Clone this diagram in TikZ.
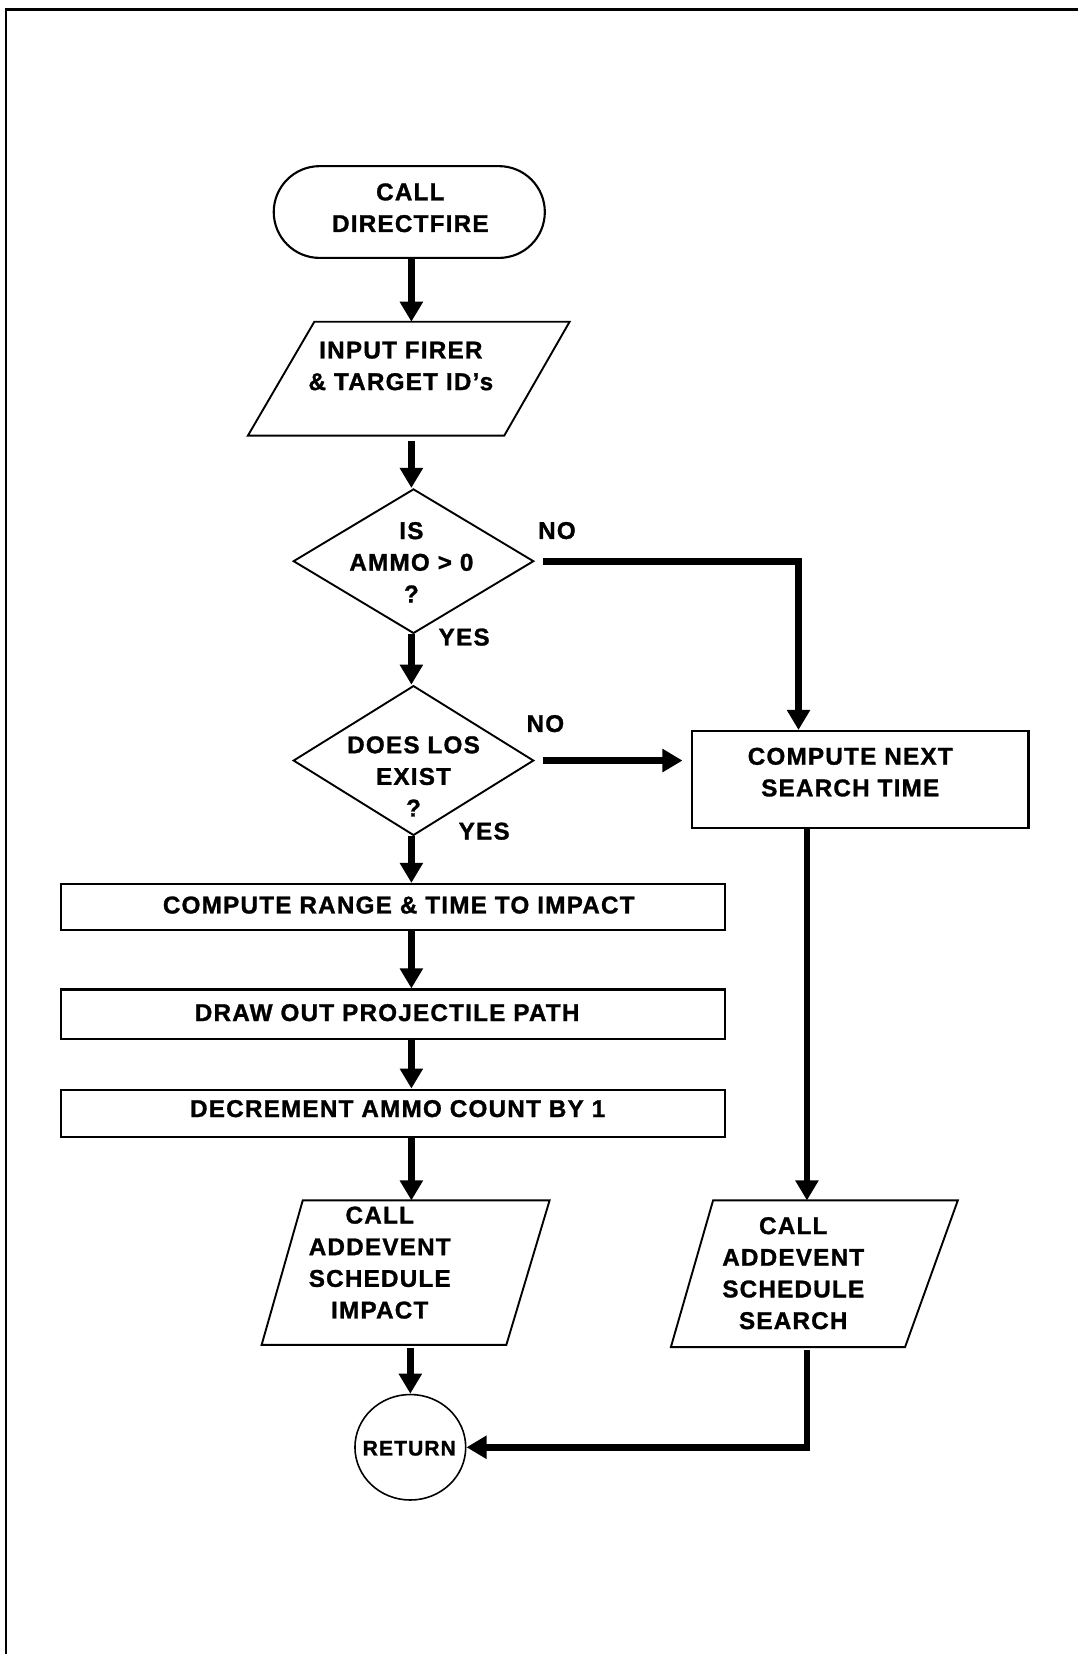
\documentclass[tikz,border=0pt]{standalone}
\usepackage{fontspec}
\setmainfont{Liberation Sans}[LetterSpace=5, BoldFeatures={FakeBold=1.2}]
\usetikzlibrary{arrows.meta,shapes.geometric,shapes.misc}

\begin{document}
\begin{tikzpicture}[x=1pt,y=-1pt,
  txt/.style={font=\fontsize{23}{30}\selectfont\bfseries, align=center, inner sep=0pt},
  lbl/.style={font=\fontsize{23}{30}\selectfont\bfseries, inner sep=0pt},
  box/.style={draw, line width=2pt, inner sep=0pt},
  decision/.style={draw, diamond, line width=1.8pt, inner sep=0pt},
  shapeline/.style={line width=1.8pt, line join=miter},
  flow/.style={line width=6.5pt, -{Triangle[width=21pt,length=19pt]}},
]
\useasboundingbox (0,0) rectangle (1022,1568);

% page frame (top and left rules)
\draw[line width=3pt] (5,9) -- (1022,9);
\draw[line width=2pt] (6,8) -- (6,1568);

% column guides
\coordinate (colx) at (390,0);
\coordinate (noX) at (757,0);
\coordinate (rx) at (765,0);

% start terminal
\node[box, rounded rectangle, minimum width=257pt, minimum height=87pt] (start) at (388,201) {};
\node[txt] (startT) at (389,197) {CALL\\DIRECTFIRE};

% input parallelogram
\coordinate (inTL) at (298,305);
\coordinate (inTR) at (540,305);
\coordinate (inBR) at (478,413);
\coordinate (inBL) at (235,413);
\draw[shapeline] (inTL) -- (inTR) -- (inBR) -- (inBL) -- cycle;
\node[txt] (inT) at (380,347) {INPUT FIRER\\\& TARGET ID's};

% decisions
\node[decision, minimum width=228pt, minimum height=137pt] (d1) at (392,532) {};
\node[txt] (d1T) at (390,533) {IS\\AMMO > 0\\?};
\node[decision, minimum width=228pt, minimum height=142pt] (d2) at (392,721) {};
\node[txt] (d2T) at (392,736) {DOES LOS\\EXIST\\?};
\node[lbl] (no1) at (528,503) {NO};
\node[lbl] (yes1) at (440,604) {YES};
\node[lbl] (no2) at (517,686) {NO};
\node[lbl] (yes2) at (459,788) {YES};

% search time branch
\node[box, minimum width=319pt, minimum height=92pt] (cnext) at (815.5,739) {};
\node[txt] (cnextT) at (806,732) {COMPUTE NEXT\\SEARCH TIME};

% process boxes
\node[box, minimum width=629pt, minimum height=44pt] (b1) at (372.5,860) {};
\node[txt] (b1T) at (378,858) {COMPUTE RANGE \& TIME TO IMPACT};
\node[box, minimum width=629pt, minimum height=47pt] (b2) at (372.5,961.5) {};
\node[txt] (b2T) at (367,960) {DRAW OUT PROJECTILE PATH};
\node[box, minimum width=629pt, minimum height=45pt] (b3) at (372.5,1055.5) {};
\node[txt] (b3T) at (377,1051) {DECREMENT AMMO COUNT BY 1};

% schedule impact parallelogram
\coordinate (imTL) at (287,1138);
\coordinate (imTR) at (521,1138);
\coordinate (imBR) at (480,1275);
\coordinate (imBL) at (248,1275);
\draw[shapeline] (imTL) -- (imTR) -- (imBR) -- (imBL) -- cycle;
\node[txt] (imT) at (360,1197) {CALL\\ADDEVENT\\SCHEDULE\\IMPACT};

% schedule search parallelogram
\coordinate (seTL) at (676,1138);
\coordinate (seTR) at (908,1138);
\coordinate (seBR) at (858,1277);
\coordinate (seBL) at (636,1277);
\draw[shapeline] (seTL) -- (seTR) -- (seBR) -- (seBL) -- cycle;
\node[txt] (seT) at (752,1207) {CALL\\ADDEVENT\\SCHEDULE\\SEARCH};

% return
\node[draw, ellipse, line width=1.5pt, inner sep=0pt, minimum width=105pt, minimum height=100pt] (ret) at (389,1372) {};
\node[txt, font=\fontsize{20}{26}\selectfont\bfseries] (retT) at (388,1373) {RETURN};

% connectors
\draw[flow] (start.south -| colx) -- (colx |- inTL);
\draw[flow, shorten <=5pt] (colx |- inBL) -- (d1.north -| colx);
\draw[flow, shorten <=8pt] (d1.east) -- (d1.east -| noX) -- (noX |- cnext.north);
\draw[flow] (d1.south -| colx) -- (d2.north -| colx);
\draw[flow, shorten <=8pt, shorten >=8pt] (d2.east) -- (d2.east -| cnext.west);
\draw[flow] (d2.south -| colx) -- (colx |- b1.north);
\draw[flow] (b1.south -| colx) -- (colx |- b2.north);
\draw[flow] (b2.south -| colx) -- (colx |- b3.north);
\draw[flow] (b3.south -| colx) -- (colx |- imTL);
\draw[flow, shorten <=3pt] (ret.north |- imBL) -- (ret.north);
\draw[flow] (cnext.south -| rx) -- (rx |- seTL);
\draw[flow, shorten <=3pt] (rx |- seBL) -- (rx |- ret.east) -- (ret.east);
\end{tikzpicture}
\end{document}
